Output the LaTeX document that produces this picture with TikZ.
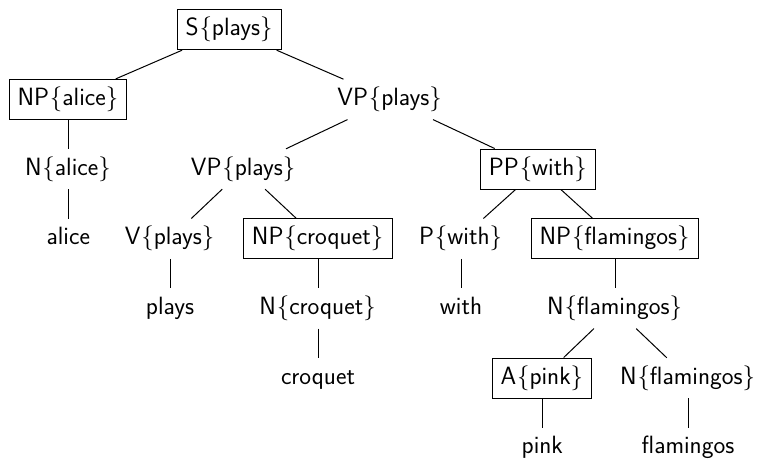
\documentclass[tikz,border=0pt]{standalone}
\begin{document}
\begin{tikzpicture}[x=1pt,y=-1pt,
  lab/.style={inner xsep=8pt, inner ysep=7.5pt, text height=18.75pt, text depth=6.25pt,
    font=\sffamily\fontsize{25}{30}\selectfont},
  boxed/.style={lab, draw, line width=1pt},
  edge/.style={line width=1pt}]
\useasboundingbox (0,0) rectangle (757,458);
\newcommand{\lb}{\kern0.8pt$\{$}
\newcommand{\rb}{$\}$\kern0.8pt}
\def\ya{29.7}\def\yb{99.4}\def\yc{169.0}\def\yd{238.7}\def\ye{308.4}\def\yf{378.0}\def\yg{447.7}
\node[boxed] (S) at (229.5,\ya) {S\lb plays\rb};
\node[boxed] (NPa) at (68.3,\yb) {NP\lb alice\rb};
\node[lab] (VP1) at (390,\yb) {VP\lb plays\rb};
\node[lab] (Na) at (68.3,\yc) {N\lb alice\rb};
\node[lab] (VP2) at (243.5,\yc) {VP\lb plays\rb};
\node[boxed] (PP) at (538.3,\yc) {PP\lb with\rb};
\node[lab] (alice) at (68.3,\yd) {alice};
\node[lab] (V) at (170,\yd) {V\lb plays\rb};
\node[boxed] (NPc) at (318,\yd) {NP\lb croquet\rb};
\node[lab] (P) at (461,\yd) {P\lb with\rb};
\node[boxed] (NPf) at (615,\yd) {NP\lb flamingos\rb};
\node[lab] (plays) at (170,\ye) {plays};
\node[lab] (Nc) at (318,\ye) {N\lb croquet\rb};
\node[lab] (with) at (461,\ye) {with};
\node[lab] (Nf) at (615,\ye) {N\lb flamingos\rb};
\node[lab] (croquet) at (318,\yf) {croquet};
\node[boxed] (A) at (542.3,\yf) {A\lb pink\rb};
\node[lab] (Nf2) at (688,\yf) {N\lb flamingos\rb};
\node[lab] (pink) at (542.3,\yg) {pink};
\node[lab] (flamingos) at (688,\yg) {flamingos};
\draw[edge] (S) -- (NPa);
\draw[edge] (S) -- (VP1);
\draw[edge] (NPa) -- (Na);
\draw[edge] (Na) -- (alice);
\draw[edge] (VP1) -- (VP2);
\draw[edge] (VP1) -- (PP);
\draw[edge] (VP2) -- (V);
\draw[edge] (VP2) -- (NPc);
\draw[edge] (V) -- (plays);
\draw[edge] (NPc) -- (Nc);
\draw[edge] (Nc) -- (croquet);
\draw[edge] (PP) -- (P);
\draw[edge] (PP) -- (NPf);
\draw[edge] (P) -- (with);
\draw[edge] (NPf) -- (Nf);
\draw[edge] (Nf) -- (A);
\draw[edge] (Nf) -- (Nf2);
\draw[edge] (A) -- (pink);
\draw[edge] (Nf2) -- (flamingos);
\end{tikzpicture}
\end{document}
